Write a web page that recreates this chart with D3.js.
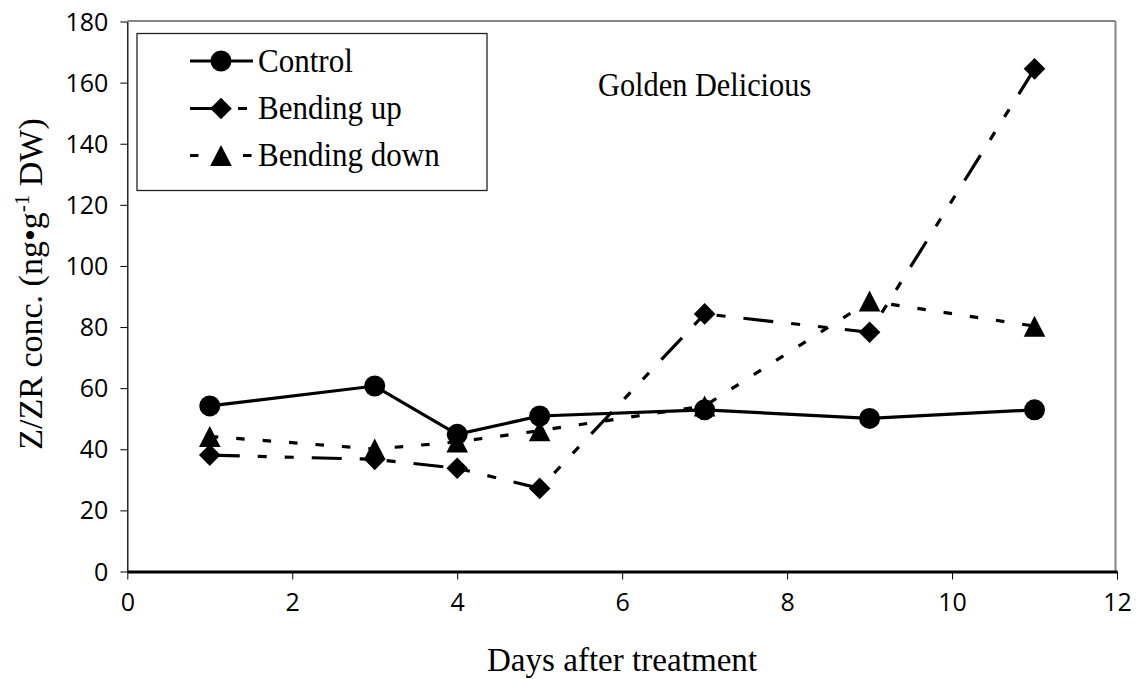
<!DOCTYPE html>
<html>
<head>
<meta charset="utf-8">
<script src="https://cdn.jsdelivr.net/npm/d3@7"></script>
<style>
  html, body { margin: 0; padding: 0; background: #fff; }
  svg { display: block; }
</style>
</head>
<body>
<svg id="chart" width="1136" height="679"></svg>
<script>
// ---- data ----
const days = [1, 3, 4, 5, 7, 9, 11];
const control = [54.2, 60.7, 44.9, 50.9, 52.9, 50.1, 52.9];
const bendingUp = [38.1, 36.7, 33.8, 27.2, 84.3, 78.3, 164.5];
const bendingDown = [44.2, 40.1, 42.4, 46.1, 54.2, 88.5, 80.3];
const seriesNames = ["Control", "Bending up", "Bending down"];
const xTickValues = [0, 2, 4, 6, 8, 10, 12];
const yTickValues = [0, 20, 40, 60, 80, 100, 120, 140, 160, 180];
const chartTitle = "Golden Delicious";
const xTitle = "Days after treatment";

// ---- styles ----
const seriesStyle = [
  { values: control, dash: null, marker: "circle" },
  { values: bendingUp, dash: "30,18,9,18,9,18", marker: "diamond" },
  { values: bendingDown, dash: "8.5,18", marker: "triangle" }
];
const serif = "'Liberation Serif', 'Times New Roman', serif";

const svg = d3.select("#chart");
const mLeft = 127.3, mRight = 1117, mTop = 21.5, mBottom = 571.5;

const x = d3.scaleLinear().domain([0, 12]).range([mLeft, mRight]);
const y = d3.scaleLinear().domain([0, 180]).range([mBottom, mTop]);

// plot frame (grey top/right)
svg.append("line").attr("x1", mLeft).attr("x2", mRight - 1.5).attr("y1", mTop - 0.5).attr("y2", mTop - 0.5)
  .attr("stroke", "#858585").attr("stroke-width", 2);
svg.append("line").attr("x1", mRight - 1.5).attr("x2", mRight - 1.5).attr("y1", mTop - 0.5).attr("y2", mBottom)
  .attr("stroke", "#858585").attr("stroke-width", 2);

// y axis
const yAxis = d3.axisLeft(y).tickValues(yTickValues).tickSize(7).tickPadding(12).tickSizeOuter(0);
const gy = svg.append("g").attr("transform", `translate(${mLeft},0)`).call(yAxis);
gy.select(".domain").attr("stroke", "#000").attr("stroke-width", 1.3);
gy.selectAll(".tick line").attr("stroke", "#000").attr("stroke-width", 1);
gy.selectAll(".tick text").attr("font-family", "'Open Sans', sans-serif").attr("font-size", 25)
  .attr("fill", "#000").attr("dy", "0.34em");

// x axis
const xAxis = d3.axisBottom(x).tickValues(xTickValues).tickSize(8).tickPadding(14).tickSizeOuter(0);
const gx = svg.append("g").attr("transform", `translate(0,${mBottom})`).call(xAxis);
gx.select(".domain").attr("stroke", "#000").attr("stroke-width", 2.8);
gx.selectAll(".tick line").attr("stroke", "#000").attr("stroke-width", 1);
gx.selectAll(".tick text").attr("font-family", "'Open Sans', sans-serif").attr("font-size", 25)
  .attr("fill", "#000").attr("dy", "0.71em");

// axis titles
svg.append("text").attr("transform", "translate(622,671) scale(0.96,1)").attr("text-anchor", "middle")
  .attr("font-family", serif).attr("font-size", 34.5)
  .attr("fill", "#000").text(xTitle);

const yt = svg.append("text").attr("transform", "translate(42,284) rotate(-90)")
  .attr("text-anchor", "middle")
  .attr("font-family", serif).attr("font-size", 34)
  .attr("fill", "#000");
yt.append("tspan").text("Z/ZR conc. (ng\u2022g");
yt.append("tspan").attr("font-size", 21).attr("dy", -13).text("-1");
yt.append("tspan").attr("dy", 13).text(" DW)");

// chart title
svg.append("text").attr("transform", "translate(598,96) scale(0.92,1)")
  .attr("font-family", serif).attr("font-size", 33)
  .attr("fill", "#000").text(chartTitle);

// markers
function drawMarker(g, type, cx, cy) {
  if (type === "circle") {
    g.append("circle").attr("cx", cx).attr("cy", cy).attr("r", 10.5).attr("fill", "#000");
  } else if (type === "diamond") {
    const s = 10.8;
    g.append("path").attr("d", `M${cx},${cy - s}L${cx + s},${cy}L${cx},${cy + s}L${cx - s},${cy}Z`).attr("fill", "#000");
  } else {
    const w = 10.8, h = 10.5;
    g.append("path").attr("d", `M${cx},${cy - h}L${cx + w},${cy + h}L${cx - w},${cy + h}Z`).attr("fill", "#000");
  }
}

const line = d3.line().x(d => x(d[0])).y(d => y(d[1]));
const plot = svg.append("g");
seriesStyle.forEach(s => {
  const pts = days.map((d, i) => [d, s.values[i]]);
  const g = plot.append("g");
  g.append("path").datum(pts).attr("d", line).attr("fill", "none").attr("stroke", "#000")
    .attr("stroke-width", 3.2).attr("stroke-dasharray", s.dash);
  pts.forEach(p => drawMarker(g, s.marker, x(p[0]), y(p[1])));
});

// legend
const lg = svg.append("g");
lg.append("rect").attr("x", 137).attr("y", 33.5).attr("width", 350).attr("height", 157)
  .attr("fill", "#fff").attr("stroke", "#222").attr("stroke-width", 1.3);
const rowsY = [61, 108.5, 155.5];
seriesStyle.forEach((s, i) => {
  const ry = rowsY[i];
  lg.append("line").attr("x1", 190).attr("x2", 253).attr("y1", ry).attr("y2", ry)
    .attr("stroke", "#000").attr("stroke-width", 3.2).attr("stroke-dasharray", s.dash);
  drawMarker(lg, s.marker, 221, ry);
  lg.append("text").attr("transform", `translate(258,${ry}) scale(0.94,1)`).attr("dy", "0.33em")
    .attr("font-family", serif).attr("font-size", 33)
    .attr("fill", "#000").text(seriesNames[i]);
});
</script>
</body>
</html>
